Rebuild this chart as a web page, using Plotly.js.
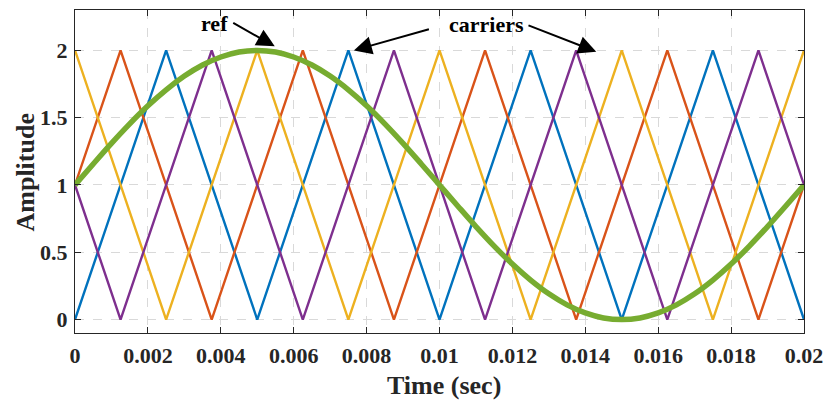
<!DOCTYPE html>
<html>
<head>
<meta charset="utf-8">
<script src="https://cdn.plot.ly/plotly-3.0.1.min.js"></script>
<style>html,body{margin:0;padding:0;background:#fff;}#chart{width:824px;height:403px;}</style>
</head>
<body>
<div id="chart"></div>
<script>
// Carrier vertices (time in s, amplitude)
const tA = [0, 0.0025, 0.005, 0.0075, 0.01, 0.0125, 0.015, 0.0175, 0.02];
const blueY = [0, 2, 0, 2, 0, 2, 0, 2, 0];
const yellowY = [2, 0, 2, 0, 2, 0, 2, 0, 2];
const tB = [0, 0.00125, 0.00375, 0.00625, 0.00875, 0.01125, 0.01375, 0.01625, 0.01875, 0.02];
const orangeY = [1, 2, 0, 2, 0, 2, 0, 2, 0, 1];
const purpleY = [1, 0, 2, 0, 2, 0, 2, 0, 2, 1];
// Reference wave samples
const tRef = [0,0.0005,0.001,0.0015,0.002,0.0025,0.003,0.0035,0.004,0.0045,0.005,0.0055,0.006,0.0065,0.007,0.0075,0.008,0.0085,0.009,0.0095,0.01,0.0105,0.011,0.0115,0.012,0.0125,0.013,0.0135,0.014,0.0145,0.015,0.0155,0.016,0.0165,0.017,0.0175,0.018,0.0185,0.019,0.0195,0.02];
const refY = [1,1.156,1.309,1.454,1.588,1.707,1.809,1.891,1.951,1.988,2.0,1.988,1.951,1.891,1.809,1.707,1.588,1.454,1.309,1.156,1.0,0.844,0.691,0.546,0.412,0.293,0.191,0.109,0.049,0.012,0.0,0.012,0.049,0.109,0.191,0.293,0.412,0.546,0.691,0.844,1.0];
const xTicks = [0,0.002,0.004,0.006,0.008,0.01,0.012,0.014,0.016,0.018,0.02];
const xTickText = ['0','0.002','0.004','0.006','0.008','0.01','0.012','0.014','0.016','0.018','0.02'];
const yTicks = [0,0.5,1,1.5,2];
const yTickText = ['0','0.5','1','1.5','2'];

const FONT = 'Times New Roman, Liberation Serif, serif';
const lw = 2.4;
const traces = [
  {x: tA, y: blueY, mode: 'lines', line: {color: '#0072BD', width: lw}},
  {x: tB, y: orangeY, mode: 'lines', line: {color: '#D95319', width: lw}},
  {x: tA, y: yellowY, mode: 'lines', line: {color: '#EDB120', width: lw}},
  {x: tB, y: purpleY, mode: 'lines', line: {color: '#7E2F8E', width: lw}},
  {x: tRef, y: refY, mode: 'lines', line: {color: '#77AC30', width: 5.5, shape: 'spline'}}
];
const axisCommon = {
  showline: true, linecolor: '#262626', linewidth: 1, mirror: 'ticks',
  ticks: 'inside', ticklen: 6, tickcolor: '#262626', tickwidth: 1,
  showgrid: true, gridcolor: '#d9d9d9', griddash: 'dash', gridwidth: 1,
  zeroline: false,
  tickfont: {family: FONT, size: 22, color: '#262626', weight: 'bold'}
};
const titleFont = {family: FONT, size: 26, color: '#262626', weight: 'bold'};
const arrowCommon = {showarrow: true, arrowhead: 2, arrowsize: 1.8, arrowwidth: 2, arrowcolor: '#000', axref: 'x', ayref: 'y', xref: 'x', yref: 'y', text: ''};
const layout = {
  width: 824, height: 403,
  margin: {l: 75, r: 20, t: 10, b: 70},
  paper_bgcolor: '#fff', plot_bgcolor: '#fff',
  showlegend: false,
  xaxis: Object.assign({}, axisCommon, {
    range: [0, 0.02], tickvals: xTicks, ticktext: xTickText, ticklabelstandoff: 3
  }),
  yaxis: Object.assign({}, axisCommon, {
    range: [-0.1, 2.3], tickvals: yTicks, ticktext: yTickText, ticklabelstandoff: 2
  }),
  annotations: [
    {xref: 'paper', yref: 'paper', x: 0.5, y: 0, xanchor: 'center', yanchor: 'middle', xshift: 4, yshift: -52, text: 'Time (sec)', showarrow: false, font: titleFont},
    {xref: 'paper', yref: 'paper', x: 0, y: 0.5, xanchor: 'center', yanchor: 'middle', xshift: -50, yshift: -1, textangle: -90, text: 'Amplitude', showarrow: false, font: titleFont},
    {x: 0.00384, y: 2.2, xref: 'x', yref: 'y', text: 'ref', showarrow: false, font: {family: FONT, size: 22, color: '#000', weight: 'bold'}},
    Object.assign({}, arrowCommon, {x: 0.00548, y: 2.03, ax: 0.0043, ay: 2.21}),
    {x: 0.0113, y: 2.19, xref: 'x', yref: 'y', text: 'carriers', showarrow: false, font: {family: FONT, size: 22, color: '#000', weight: 'bold'}},
    Object.assign({}, arrowCommon, {x: 0.00765, y: 2.0, ax: 0.00975, ay: 2.16}),
    Object.assign({}, arrowCommon, {x: 0.0143, y: 1.99, ax: 0.0124, ay: 2.19})
  ]
};
Plotly.newPlot('chart', traces, layout, {displayModeBar: false, staticPlot: true});
</script>
</body>
</html>
